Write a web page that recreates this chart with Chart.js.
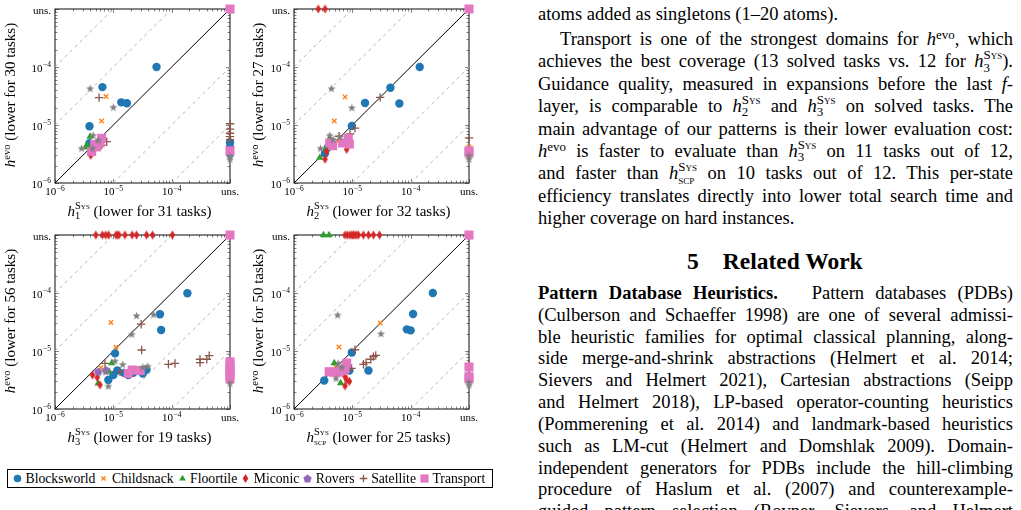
<!DOCTYPE html>
<html lang="en">
<head>
<meta charset="UTF-8">
<meta name="viewport" content="width=device-width, initial-scale=1.0">
<title>Evaluation time per state: h-evo vs. systematic PDBs</title>
<script src="https://cdn.jsdelivr.net/npm/chart.js"></script>
<style>
    html, body { margin: 0; padding: 0; background: #fff; }
    body {
        position: relative;
        width: 1021px;
        height: 510px;
        overflow: hidden;
        font-family: "Liberation Serif", "Times New Roman", serif;
        color: #000;
    }
    .plot { position: absolute; }
    .xt, .yt {
        position: absolute;
        font-size: 15px;
        line-height: 16px;
        height: 16px;
        white-space: nowrap;
        text-align: center;
    }
    .xt { width: 240px; }
    .yt { width: 220px; transform: rotate(-90deg); }
    .e { font-size: 70%; vertical-align: 0.5em; line-height: 0; }
    .ss {
        display: inline-block;
        font-size: 70%;
        line-height: 0.95;
        vertical-align: -0.32em;
        text-align: left;
        margin-top: -0.3em;
    }
    .ss > span { display: block; }
    .sc { font-variant: small-caps; }
    #legend {
        position: absolute;
        left: 7px;
        top: 469px;
        width: 486px;
        height: 19px;
        box-sizing: border-box;
        border: 1px solid #000;
        display: flex;
        align-items: center;
        padding-left: 4px;
        font-size: 13.7px;
        white-space: nowrap;
    }
    #legend canvas { margin-right: 2.5px; }
    #legend span { margin-right: 3px; }
    .col { position: absolute; left: 538px; top: 0; width: 475px; height: 510px; font-size: 18.5px; }
    .ln {
        position: absolute;
        left: 0;
        width: 475px;
        line-height: 22px;
        text-align: justify;
        text-align-last: justify;
    }
    .ln.last { text-align-last: left; }
    .ind { text-indent: 22px; }
    .hd { position: absolute; left: 149px; top: 249px; font-size: 23.5px; line-height: 24px; font-weight: bold; white-space: nowrap; }
</style>
</head>
<body>

<canvas id="p1" class="plot" width="240" height="226" style="left:0px; top:0px;"></canvas>
<canvas id="p2" class="plot" width="240" height="226" style="left:239px; top:0px;"></canvas>
<canvas id="p3" class="plot" width="240" height="226" style="left:0px; top:226px;"></canvas>
<canvas id="p4" class="plot" width="240" height="226" style="left:239px; top:226px;"></canvas>
<div id="titles"></div>
<div id="legend"></div>

<div class="col">
    <div class="ln last" style="top:3px">atoms added as singletons (1–20 atoms).</div>
    <div class="ln ind" style="top:28px">Transport is one of the strongest domains for <i>h</i><span class="e">evo</span>, which</div>
    <div class="ln" style="top:50.4px">achieves the best coverage (13 solved tasks vs. 12 for <i>h</i><span class="ss"><span class="sc">Sys</span><span>3</span></span>).</div>
    <div class="ln" style="top:72.8px">Guidance quality, measured in expansions before the last <i>f</i>-</div>
    <div class="ln" style="top:95.2px">layer, is comparable to <i>h</i><span class="ss"><span class="sc">Sys</span><span>2</span></span> and <i>h</i><span class="ss"><span class="sc">Sys</span><span>3</span></span> on solved tasks. The</div>
    <div class="ln" style="top:117.6px">main advantage of our patterns is their lower evaluation cost:</div>
    <div class="ln" style="top:140px"><i>h</i><span class="e">evo</span> is faster to evaluate than <i>h</i><span class="ss"><span class="sc">Sys</span><span>3</span></span> on 11 tasks out of 12,</div>
    <div class="ln" style="top:162.4px">and faster than <i>h</i><span class="ss"><span class="sc">Sys</span><span class="sc">scp</span></span> on 10 tasks out of 12. This per-state</div>
    <div class="ln" style="top:184.8px">efficiency translates directly into lower total search time and</div>
    <div class="ln last" style="top:207.2px">higher coverage on hard instances.</div>

    <div class="hd">5<span style="margin-left:24px">Related Work</span></div>

    <div class="ln" style="top:281.8px"><b>Pattern Database Heuristics.</b>&nbsp;&nbsp; Pattern databases (PDBs)</div>
    <div class="ln" style="top:303.6px">(Culberson and Schaeffer 1998) are one of several admissi-</div>
    <div class="ln" style="top:325.5px">ble heuristic families for optimal classical planning, along-</div>
    <div class="ln" style="top:347.3px">side merge-and-shrink abstractions (Helmert et al. 2014;</div>
    <div class="ln" style="top:369.2px">Sievers and Helmert 2021), Cartesian abstractions (Seipp</div>
    <div class="ln" style="top:391px">and Helmert 2018), LP-based operator-counting heuristics</div>
    <div class="ln" style="top:412.9px">(Pommerening et al. 2014) and landmark-based heuristics</div>
    <div class="ln" style="top:434.7px">such as LM-cut (Helmert and Domshlak 2009). Domain-</div>
    <div class="ln" style="top:456.6px">independent generators for PDBs include the hill-climbing</div>
    <div class="ln" style="top:478.4px">procedure of Haslum et al. (2007) and counterexample-</div>
    <div class="ln" style="top:500.3px">guided pattern selection (Rovner, Sievers, and Helmert</div>
</div>

<script>
    // time per state (s); unsolved tasks sit on the "uns." limit
    const U = 1e-3;
    const AX_MIN = 1e-6, AX_MAX = 1e-3;
    const tickValues = [1e-6, 1e-5, 1e-4, 1e-3];
    const tickLabels = ['10^−6', '10^−5', '10^−4', 'uns.'];
    const refFactors = [1, 10, 100, 0.1, 0.01];
    const domainNames = ['Blocksworld', 'Childsnack', 'Floortile', 'Miconic', 'Rovers', 'Satellite', 'Transport'];
    const xSubs = ['1', '2', '3', 'scp'];
    const xCounts = [31, 32, 19, 25];
    const yCounts = [30, 27, 56, 50];

    // [h_sys, h_evo] pairs, plot 1 (h1 Sys)
    const bw1 = [[5.5e-5, 1.0e-4], [6.5e-6, 4.5e-5], [1.37e-5, 2.46e-5], [1.71e-5, 2.37e-5], [3.9e-6, 9.5e-6], [3.9e-6, 4.85e-6], [U, 5.0e-6], [U, 4.2e-6], [U, 3.2e-6]];
    const cs1 = [[7.5e-6, 3.1e-5], [6.3e-6, 1.17e-5]];
    const ft1 = [[4.0e-6, 6.3e-6], [3.5e-6, 4.5e-6], [3.5e-6, 4.1e-6]];
    const mi1 = [[4.1e-6, 3.0e-6]];
    const ro1 = [[4.6e-6, 4.4e-6]];
    const sa1 = [[5.7e-6, 2.96e-5], [7.7e-6, 5.15e-6], [6.3e-6, 4.5e-6], [U, 1.05e-5], [U, 8.5e-6], [U, 7.2e-6], [U, 6.3e-6], [U, 5.6e-6]];
    const tr1 = [[U, U], [6.3e-6, 5.9e-6], [5.9e-6, 4.9e-6], [5.2e-6, 4.2e-6], [4.25e-6, 3.5e-6], [4.8e-6, 4.6e-6], [U, 3.6e-6]];
    const ot1 = [[4.0e-6, 4.3e-5], [1.0e-5, 2.04e-5], [2.86e-6, 4.0e-6], [4.5e-6, 6.7e-6], [5.5e-6, 5.5e-6], [4.4e-6, 4.0e-6], [U, 2.6e-6], [U, 2.9e-6]];

    // plot 2 (h2 Sys)
    const bw2 = [[1.43e-4, 1.0e-4], [4.5e-5, 4.4e-5], [1.65e-5, 2.4e-5], [6.4e-5, 2.35e-5], [9.8e-6, 9.6e-6], [3.4e-6, 3.25e-6], [3.8e-6, 4.1e-6]];
    const cs2 = [[7.5e-6, 3.05e-5], [4.9e-6, 1.17e-5], [5.6e-6, 5.2e-6], [U, 4.2e-6]];
    const ft2 = [[3.6e-6, 4.1e-6], [2.77e-6, 2.73e-6], [4.1e-6, 5.8e-6]];
    const mi2 = [[2.6e-6, U], [3.4e-6, U], [8.0e-6, 3.8e-6], [3.6e-6, 3.5e-6], [3.4e-6, 2.57e-6]];
    const ro2 = [[4.4e-6, 4.6e-6]];
    const sa2 = [[3.0e-5, 3.0e-5], [1.11e-5, 8.8e-6], [9.1e-6, 7.0e-6], [5.9e-6, 6.4e-6], [U, 6.0e-6]];
    const tr2 = [[U, U], [8.5e-6, 5.9e-6], [8.9e-6, 4.7e-6], [6.8e-6, 4.9e-6], [4.6e-6, 4.4e-6], [4.1e-6, 4.9e-6], [U, 3.6e-6], [U, 3.3e-6]];
    const ot2 = [[4.4e-6, 4.3e-5], [9.8e-6, 2.0e-5], [4.1e-6, 6.7e-6], [4.7e-6, 5.7e-6], [2.85e-6, 4.0e-6], [6.1e-6, 6.3e-6], [U, 3.0e-6], [U, 2.6e-6]];

    // plot 3 (h3 Sys)
    const bw3 = [[1.86e-4, 9.9e-5], [6.3e-5, 4.3e-5], [6.6e-5, 2.3e-5], [1.07e-5, 9.1e-6], [1.0e-5, 3.86e-6], [8.2e-6, 3.16e-6], [1.17e-5, 4.6e-6], [1.52e-5, 4.2e-6], [1.8e-5, 3.86e-6], [2.2e-5, 4.2e-6], [3.2e-5, 4.1e-6], [3.7e-5, 4.8e-6]];
    const cs3 = [[9.1e-6, 3.1e-5], [1.11e-5, 1.16e-5], [6.1e-6, 5.15e-6]];
    const ft3 = [[8.5e-6, 4.4e-6], [9.4e-6, 6.2e-6], [5.5e-6, 2.77e-6]];
    const mi3 = [[5.0e-6, U], [6.5e-6, U], [7.4e-6, U], [8.3e-6, U], [1.11e-5, U], [1.17e-5, U], [1.25e-5, U], [1.58e-5, U], [2.1e-5, U], [2.5e-5, U], [3.7e-5, U], [4.7e-5, U], [1.03e-4, U], [4.4e-6, 3.86e-6], [5.3e-6, 3.5e-6], [5.9e-6, 2.6e-6]];
    const ro3 = [[5.5e-6, 4.4e-6], [7.5e-6, 4.7e-6]];
    const sa3 = [[3.0e-5, 2.9e-5], [3.06e-5, 1.04e-5], [8.8e-5, 5.9e-6], [1.14e-4, 6.1e-6], [3.06e-4, 7.2e-6], [3.06e-4, 6.3e-6], [4.0e-4, 7.2e-6], [4.4e-4, 8.3e-6], [7.2e-6, 6.1e-6], [1.3e-5, 4.4e-6]];
    const tr3 = [[U, U], [1.8e-5, 4.1e-6], [2.1e-5, 4.7e-6], [2.9e-5, 4.6e-6], [U, 6.5e-6], [U, 5.7e-6], [U, 5.0e-6], [U, 4.4e-6], [U, 3.8e-6], [U, 3.3e-6]];
    const ot3 = [[2.5e-5, 4.1e-5], [4.9e-5, 4.3e-5], [2.07e-5, 1.96e-5], [1.45e-5, 5.9e-6], [3.2e-5, 5.3e-6], [3.9e-5, 5.5e-6], [1.07e-5, 6.8e-6], [8.2e-6, 2.5e-6], [7.4e-6, 4.4e-6], [U, 2.8e-6]];

    // plot 4 (hSCP Sys)
    const bw4 = [[2.4e-4, 1.0e-4], [1.1e-4, 4.35e-5], [8.6e-5, 2.36e-5], [1.0e-4, 2.27e-5], [9.8e-6, 9.4e-6], [1.89e-5, 4.6e-6], [8.9e-6, 4.6e-6], [3.3e-6, 3.1e-6]];
    const cs4 = [[3.0e-5, 3.04e-5], [5.9e-6, 1.17e-5], [5.2e-6, 5.3e-6]];
    const ft4 = [[3.2e-6, U], [4.0e-6, U], [4.9e-6, 6.2e-6], [6.3e-6, 2.8e-6]];
    const mi4 = [[7.5e-6, U], [8.2e-6, U], [9.1e-6, U], [9.8e-6, U], [1.04e-5, U], [1.11e-5, U], [1.19e-5, U], [1.27e-5, U], [1.55e-5, U], [1.89e-5, U], [2.3e-5, U], [2.92e-5, U], [6.6e-6, 4.4e-6], [7.5e-6, 3.6e-6], [8.0e-6, 3.15e-6], [8.9e-6, 3.0e-6], [7.5e-6, 2.5e-6]];
    const ro4 = [[5.5e-6, 4.7e-6]];
    const sa4 = [[1.11e-5, 1.05e-5], [1.55e-5, 5.9e-6], [1.72e-5, 6.3e-6], [2.07e-5, 7.2e-6], [2.3e-5, 8.0e-6], [2.52e-5, 8.4e-6], [9.7e-6, 5.0e-6], [U, 6.0e-6]];
    const tr4 = [[U, U], [8.0e-6, 6.2e-6], [4.0e-6, 4.4e-6], [4.8e-6, 4.3e-6], [5.6e-6, 4.3e-6], [6.5e-6, 4.6e-6], [7.5e-6, 4.9e-6], [U, 5.3e-6], [U, 3.6e-6], [U, 3.3e-6]];
    const ot4 = [[5.6e-6, 4.2e-5], [3.1e-5, 2.0e-5], [5.7e-6, 6.2e-6], [6.6e-6, 5.3e-6], [5.25e-6, 3.4e-6], [U, 2.9e-6], [U, 2.6e-6]];

    const plotSeries = [
        [bw1, cs1, ft1, mi1, ro1, sa1, tr1, ot1],
        [bw2, cs2, ft2, mi2, ro2, sa2, tr2, ot2],
        [bw3, cs3, ft3, mi3, ro3, sa3, tr3, ot3],
        [bw4, cs4, ft4, mi4, ro4, sa4, tr4, ot4]
    ];

    const FONT = '"Liberation Serif", "Times New Roman", serif';
    Chart.defaults.font.family = FONT;

    // small canvases for the marker shapes Chart.js has no style for
    function markerCanvas(draw) {
        const c = document.createElement('canvas');
        c.width = 11;
        c.height = 11;
        draw(c.getContext('2d'), 5.5);
        return c;
    }
    const pentagonImg = markerCanvas((g, c) => {
        g.fillStyle = '#9467bd';
        g.beginPath();
        for (let i = 0; i < 5; i++) {
            const a = -Math.PI / 2 + i * 2 * Math.PI / 5;
            g.lineTo(c + 4.4 * Math.cos(a), c + 0.4 + 4.4 * Math.sin(a));
        }
        g.closePath();
        g.fill();
    });
    const thinDiamondImg = markerCanvas((g, c) => {
        g.fillStyle = '#d62728';
        g.beginPath();
        g.moveTo(c, c - 4.6);
        g.lineTo(c + 2.8, c);
        g.lineTo(c, c + 4.6);
        g.lineTo(c - 2.8, c);
        g.closePath();
        g.fill();
    });
    const starImg = markerCanvas((g, c) => {
        g.fillStyle = '#7f7f7f';
        g.beginPath();
        for (let i = 0; i < 10; i++) {
            const r = i % 2 ? 1.8 : 4.2;
            const a = -Math.PI / 2 + i * Math.PI / 5;
            g.lineTo(c + r * Math.cos(a), c + 0.5 + r * Math.sin(a));
        }
        g.closePath();
        g.fill();
    });

    const markers = [
        { pointStyle: 'circle', radius: 4.2, color: '#1f77b4', borderWidth: 0 },
        { pointStyle: 'crossRot', radius: 3.2, color: '#ff7f0e', borderWidth: 1.3 },
        { pointStyle: 'triangle', radius: 4.3, color: '#2ca02c', borderWidth: 0 },
        { pointStyle: thinDiamondImg, radius: 5, color: '#d62728', borderWidth: 0 },
        { pointStyle: pentagonImg, radius: 5, color: '#9467bd', borderWidth: 0 },
        { pointStyle: 'cross', radius: 4.2, color: '#8c564b', borderWidth: 1.3 },
        { pointStyle: 'rect', radius: 6.4, color: '#e377c2', borderWidth: 0 },
        { pointStyle: starImg, radius: 5, color: '#7f7f7f', borderWidth: 0 }
    ];
    // gray markers were plotted last, pink before them
    const drawOrder = [8, 7, 6, 5, 4, 3, 2, 1];

    // every decade step 1..9 gets an inward tick mark
    const tickMarks = [];
    for (let k = Math.log10(AX_MIN); k < Math.log10(AX_MAX); k++) {
        for (let m = 1; m < 10; m++) tickMarks.push({ v: m * Math.pow(10, k), major: m === 1 });
    }
    tickMarks.push({ v: AX_MAX, major: true });

    const framePlugin = {
        id: 'frame',
        beforeDatasetsDraw(chart) {
            const { ctx, chartArea: a, scales: { x, y } } = chart;
            ctx.save();
            ctx.strokeStyle = '#666';
            ctx.lineWidth = 0.8;
            ctx.beginPath();
            tickMarks.forEach(t => {
                const len = t.major ? 4 : 2.5;
                const px = Math.round(x.getPixelForValue(t.v)) + 0.5;
                const py = Math.round(y.getPixelForValue(t.v)) + 0.5;
                ctx.moveTo(px, a.bottom); ctx.lineTo(px, a.bottom - len);
                ctx.moveTo(px, a.top); ctx.lineTo(px, a.top + len);
                ctx.moveTo(a.left, py); ctx.lineTo(a.left + len, py);
                ctx.moveTo(a.right, py); ctx.lineTo(a.right - len, py);
            });
            ctx.stroke();
            ctx.strokeStyle = '#222';
            ctx.lineWidth = 1.1;
            ctx.strokeRect(a.left, a.top, a.right - a.left, a.bottom - a.top);
            ctx.restore();
        }
    };

    // tick labels with a real raised exponent ("10" + small "−6")
    function drawTickLabel(ctx, label, px, baseline, align) {
        const [base, exp] = label.split('^');
        ctx.font = '11px ' + FONT;
        const wb = ctx.measureText(base).width;
        ctx.font = '7.5px ' + FONT;
        const we = exp ? ctx.measureText(exp).width + 0.5 : 0;
        const left = align === 'center' ? px - (wb + we) / 2 : px - (wb + we);
        ctx.font = '11px ' + FONT;
        ctx.fillText(base, left, baseline);
        if (exp) {
            ctx.font = '7.5px ' + FONT;
            ctx.fillText(exp, left + wb + 0.5, baseline - 4.5);
        }
    }
    const labelPlugin = {
        id: 'tickLabels',
        afterDraw(chart) {
            const { ctx, chartArea: a, scales: { x, y } } = chart;
            ctx.save();
            ctx.fillStyle = '#000';
            ctx.textAlign = 'left';
            ctx.textBaseline = 'alphabetic';
            tickValues.forEach((v, i) => {
                drawTickLabel(ctx, tickLabels[i], x.getPixelForValue(v), a.bottom + 12, 'center');
                drawTickLabel(ctx, tickLabels[i], a.left - 4, y.getPixelForValue(v) + 4.5, 'right');
            });
            ctx.restore();
        }
    };

    function refLine(f) {
        const pts = f >= 1
            ? [{ x: AX_MIN, y: AX_MIN * f }, { x: AX_MAX / f, y: AX_MAX }]
            : [{ x: AX_MIN / f, y: AX_MIN }, { x: AX_MAX, y: AX_MAX * f }];
        return {
            data: pts,
            showLine: true,
            pointRadius: 0,
            borderColor: f === 1 ? '#000' : '#b5b5b5',
            borderWidth: 1,
            borderDash: f === 1 ? [] : [3.5, 3.5],
            order: 20
        };
    }

    function logScale(size, isX) {
        return {
            type: 'logarithmic',
            position: isX ? 'bottom' : 'left',
            min: AX_MIN,
            max: AX_MAX,
            afterBuildTicks: s => { s.ticks = tickValues.map(v => ({ value: v })); },
            afterFit: s => { if (isX) s.height = size; else s.width = size; },
            ticks: { display: false },
            grid: { display: false, drawTicks: false },
            border: { display: false }
        };
    }

    plotSeries.forEach((series, p) => {
        const datasets = refFactors.map(refLine);
        series.forEach((arr, i) => {
            const m = markers[i];
            datasets.push({
                data: arr.map(([x, y]) => ({ x, y })),
                pointStyle: m.pointStyle,
                pointRadius: m.radius,
                pointBackgroundColor: m.color,
                pointBorderColor: m.color,
                pointBorderWidth: m.borderWidth,
                clip: false,
                order: drawOrder[i]
            });
        });
        new Chart(document.getElementById('p' + (p + 1)), {
            type: 'scatter',
            data: { datasets },
            options: {
                responsive: false,
                animation: false,
                events: [],
                layout: { padding: { top: 9, right: 10, left: 0, bottom: 0 } },
                scales: { x: logScale(43, true), y: logScale(55, false) },
                plugins: { legend: { display: false }, tooltip: { enabled: false } }
            },
            plugins: [framePlugin, labelPlugin]
        });
    });

    // axis titles (need italics and stacked sub/superscripts, so they are HTML)
    const xTitlePos = [[139.5, 211], [378.5, 211], [139.5, 437], [378.5, 437]];
    const yTitlePos = [[10, 95], [258, 95], [10, 321], [258, 321]];
    const titles = document.getElementById('titles');
    xSubs.forEach((sub, p) => {
        const xt = document.createElement('div');
        xt.className = 'xt';
        xt.style.left = (xTitlePos[p][0] - 120) + 'px';
        xt.style.top = (xTitlePos[p][1] - 8) + 'px';
        const subHtml = sub === 'scp' ? '<span class="sc">scp</span>' : '<span>' + sub + '</span>';
        xt.innerHTML = '<i>h</i><span class="ss"><span class="sc">Sys</span>' + subHtml + '</span> (lower for ' + xCounts[p] + ' tasks)';
        titles.appendChild(xt);

        const yt = document.createElement('div');
        yt.className = 'yt';
        yt.style.left = (yTitlePos[p][0] - 110) + 'px';
        yt.style.top = (yTitlePos[p][1] - 8) + 'px';
        yt.innerHTML = '<i>h</i><span class="e">evo</span> (lower for ' + yCounts[p] + ' tasks)';
        titles.appendChild(yt);
    });

    // legend
    const legend = document.getElementById('legend');
    domainNames.forEach((name, i) => {
        const m = markers[i];
        const c = document.createElement('canvas');
        c.width = 11;
        c.height = 11;
        const g = c.getContext('2d');
        g.fillStyle = m.color;
        g.strokeStyle = m.color;
        g.lineWidth = m.borderWidth;
        Chart.helpers.drawPoint(g, { pointStyle: m.pointStyle, radius: m.radius * 0.9, borderWidth: m.borderWidth, rotation: 0 }, 5.5, 5.5);
        legend.appendChild(c);
        const s = document.createElement('span');
        s.textContent = name;
        legend.appendChild(s);
    });
</script>
</body>
</html>
